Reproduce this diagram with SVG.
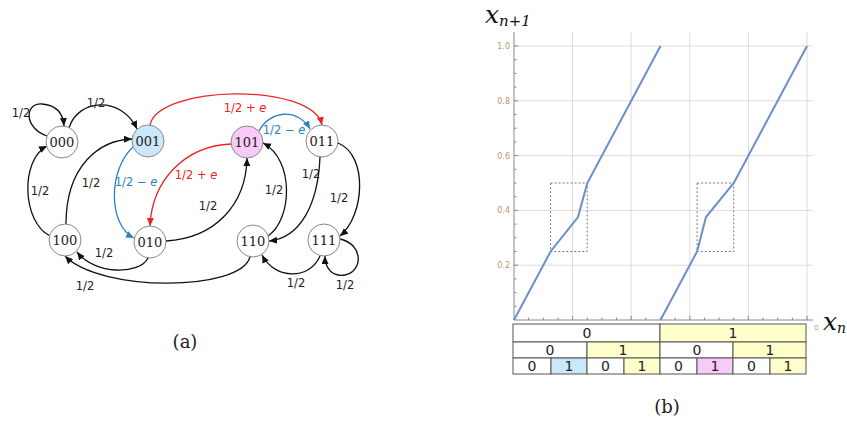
<svg xmlns="http://www.w3.org/2000/svg" width="847" height="425" viewBox="0 0 847 425">
<defs>
<marker id="ak" markerUnits="userSpaceOnUse" markerWidth="9" markerHeight="8" refX="8" refY="3.5" orient="auto"><path d="M0,0 L8,3.5 L0,7 z" fill="#111"/></marker>
<marker id="ar" markerUnits="userSpaceOnUse" markerWidth="9" markerHeight="8" refX="8" refY="3.5" orient="auto"><path d="M0,0 L8,3.5 L0,7 z" fill="#ee2222"/></marker>
<marker id="ab" markerUnits="userSpaceOnUse" markerWidth="9" markerHeight="8" refX="8" refY="3.5" orient="auto"><path d="M0,0 L8,3.5 L0,7 z" fill="#2e7fc6"/></marker>
</defs>
<style>
.node circle{stroke:#888;stroke-width:1;fill:#fff}
.node text{font-family:"DejaVu Serif",serif;font-size:13px;text-anchor:middle;fill:#222}
.e{fill:none;stroke:#111;stroke-width:1.3}
.er{fill:none;stroke:#ee2222;stroke-width:1.3}
.eb{fill:none;stroke:#2e7fc6;stroke-width:1.3}
.lbl{font-family:"DejaVu Sans",sans-serif;font-size:11.5px;text-anchor:middle;fill:#222}
.lr{fill:#ee2222}
.lb{fill:#2e7fc6}
.grid{stroke:#dcdcdc;stroke-width:1}
.tick{stroke:#888;stroke-width:1}
.tl{font-family:"DejaVu Sans",sans-serif;font-size:8px;fill:#b8956a;text-anchor:end}
.cell{stroke:#555;stroke-width:1}
.ct{font-family:"DejaVu Sans",sans-serif;font-size:14px;text-anchor:middle;fill:#222}
.cap{font-family:"DejaVu Serif",serif;font-size:18px;text-anchor:middle;fill:#222}
.math{font-family:"DejaVu Serif",serif;font-style:italic;fill:#111}
</style>

<g id="connectors">
<path class="e" d="M47,136 C24,128 24,103 42,104 C56,105 63,113 64,126" marker-end="url(#ak)"/>
<path class="e" d="M69,128 C78,98 122,96 137,129" marker-end="url(#ak)"/>
<path class="er" d="M150,125 C158,85 312,82 322,125" marker-end="url(#ar)"/>
<path class="eb" d="M133,147 C108,170 108,225 134,238" marker-end="url(#ab)"/>
<path class="er" d="M231,144 C185,146 152,180 150,226" marker-end="url(#ar)"/>
<path class="eb" d="M259,131 C270,110 298,108 310,129" marker-end="url(#ab)"/>
<path class="e" d="M50,236 C22,222 20,160 47,146" marker-end="url(#ak)"/>
<path class="e" d="M66,224 C66,165 100,140 132,139" marker-end="url(#ak)"/>
<path class="e" d="M148,258 C140,275 95,275 77,252" marker-end="url(#ak)"/>
<path class="e" d="M166,241 C215,238 246,205 247,158" marker-end="url(#ak)"/>
<path class="e" d="M250,257 C240,292 100,292 65,256" marker-end="url(#ak)"/>
<path class="e" d="M320,157 C318,205 300,238 269,241" marker-end="url(#ak)"/>
<path class="e" d="M268,236 C292,220 295,160 263,143" marker-end="url(#ak)"/>
<path class="e" d="M338,143 C368,155 365,215 340,236" marker-end="url(#ak)"/>
<path class="e" d="M320,256 C310,280 275,280 262,255" marker-end="url(#ak)"/>
<path class="e" d="M340,239 C365,245 362,272 345,275 C332,277 325,268 325,256" marker-end="url(#ak)"/>
<text class="lbl" x="21" y="117">1/2</text>
<text class="lbl" x="96" y="107">1/2</text>
<text class="lbl lr" x="245" y="112">1/2 + <tspan font-style="italic">e</tspan></text>
<text class="lbl lb" x="136" y="186">1/2 − <tspan font-style="italic">e</tspan></text>
<text class="lbl lr" x="196" y="179">1/2 + <tspan font-style="italic">e</tspan></text>
<text class="lbl lb" x="284" y="134">1/2 − <tspan font-style="italic">e</tspan></text>
<text class="lbl" x="40" y="195">1/2</text>
<text class="lbl" x="91" y="187">1/2</text>
<text class="lbl" x="104" y="257">1/2</text>
<text class="lbl" x="85" y="290">1/2</text>
<text class="lbl" x="208" y="210">1/2</text>
<text class="lbl" x="274" y="194">1/2</text>
<text class="lbl" x="311" y="178">1/2</text>
<text class="lbl" x="339" y="202">1/2</text>
<text class="lbl" x="296" y="287">1/2</text>
<text class="lbl" x="345" y="289">1/2</text>
</g>

<g id="n000" class="node"><circle cx="62" cy="142" r="16"/><text x="62" y="147">000</text></g>
<g id="n001" class="node"><circle cx="148" cy="141" r="16" style="fill:#cbe8f8"/><text x="148" y="146">001</text></g>
<g id="n101" class="node"><circle cx="247" cy="142" r="16" style="fill:#f8caf8"/><text x="247" y="147">101</text></g>
<g id="n011" class="node"><circle cx="322" cy="141" r="16"/><text x="322" y="146">011</text></g>
<g id="n100" class="node"><circle cx="65" cy="240" r="16"/><text x="65" y="245">100</text></g>
<g id="n010" class="node"><circle cx="150" cy="242" r="16"/><text x="150" y="247">010</text></g>
<g id="n110" class="node"><circle cx="253" cy="241" r="16"/><text x="253" y="246">110</text></g>
<g id="n111" class="node"><circle cx="324" cy="240" r="16"/><text x="324" y="245">111</text></g>

<text class="cap" x="185" y="348">(a)</text>

<g id="plot">
<g class="grid">
<line x1="572.6" y1="32" x2="572.6" y2="320"/>
<line x1="631.2" y1="32" x2="631.2" y2="320"/>
<line x1="689.8" y1="32" x2="689.8" y2="320"/>
<line x1="748.4" y1="32" x2="748.4" y2="320"/>
<line x1="807" y1="32" x2="807" y2="320"/>
<line x1="514" y1="265.2" x2="813" y2="265.2"/>
<line x1="514" y1="210.4" x2="813" y2="210.4"/>
<line x1="514" y1="155.6" x2="813" y2="155.6"/>
<line x1="514" y1="100.8" x2="813" y2="100.8"/>
<line x1="514" y1="46" x2="813" y2="46"/>
</g>
<g class="tick">
<line x1="514" y1="32" x2="514" y2="320"/>
<line x1="514" y1="320" x2="813" y2="320"/>
<path d="M514,306.3h2.5M514,292.6h2.5M514,278.9h2.5M514,265.2h4M514,251.5h2.5M514,237.8h2.5M514,224.1h2.5M514,210.4h4M514,196.7h2.5M514,183h2.5M514,169.3h2.5M514,155.6h4M514,141.9h2.5M514,128.2h2.5M514,114.5h2.5M514,100.8h4M514,87.1h2.5M514,73.4h2.5M514,59.7h2.5M514,46h4"/>
<path d="M528.65,320v-2.5M543.3,320v-2.5M557.95,320v-2.5M572.6,320v-4M587.25,320v-2.5M601.9,320v-2.5M616.55,320v-2.5M631.2,320v-4M645.85,320v-2.5M660.5,320v-2.5M675.15,320v-2.5M689.8,320v-4M704.45,320v-2.5M719.1,320v-2.5M733.75,320v-2.5M748.4,320v-4M763.05,320v-2.5M777.7,320v-2.5M792.35,320v-2.5M807,320v-4"/>
</g>
<text class="tl" x="510" y="268">0.2</text>
<text class="tl" x="510" y="213">0.4</text>
<text class="tl" x="510" y="158.5">0.6</text>
<text class="tl" x="510" y="103.5">0.8</text>
<text class="tl" x="510" y="49">1.0</text>
<text class="tl" x="814" y="330" style="text-anchor:start;fill:#aaa;font-size:7px">0</text>
<rect x="550.6" y="183" width="36.6" height="68.5" fill="none" stroke="#555" stroke-width="0.8" stroke-dasharray="2,2"/>
<rect x="697.1" y="183" width="36.6" height="68.5" fill="none" stroke="#555" stroke-width="0.8" stroke-dasharray="2,2"/>
<polyline points="514,320 550.6,251.5 578,217 587.3,183 660.5,46" fill="none" stroke="#6a8fcc" stroke-width="2"/>
<polyline points="660.5,320 697.1,251.5 706,217 733.8,183 807,46" fill="none" stroke="#6a8fcc" stroke-width="2"/>
<text class="math" x="485" y="23" font-size="25">x<tspan font-size="15" dy="3">n+1</tspan></text>
<text class="math" x="823" y="330" font-size="25">x<tspan font-size="14" dy="3">n</tspan></text>
</g>

<g id="table">
<rect class="cell" x="513" y="324" width="147" height="18" fill="#fff"/>
<rect class="cell" x="660" y="324" width="146" height="18" fill="#ffffcc"/>
<rect class="cell" x="513" y="342" width="74" height="16" fill="#fff"/>
<rect class="cell" x="587" y="342" width="73" height="16" fill="#ffffcc"/>
<rect class="cell" x="660" y="342" width="73" height="16" fill="#fff"/>
<rect class="cell" x="733" y="342" width="73" height="16" fill="#ffffcc"/>
<rect class="cell" x="513" y="358" width="38" height="16" fill="#fff"/>
<rect class="cell" x="551" y="358" width="36" height="16" fill="#cbe8f8"/>
<rect class="cell" x="587" y="358" width="37" height="16" fill="#fff"/>
<rect class="cell" x="624" y="358" width="36" height="16" fill="#ffffcc"/>
<rect class="cell" x="660" y="358" width="37" height="16" fill="#fff"/>
<rect class="cell" x="697" y="358" width="36" height="16" fill="#f8caf8"/>
<rect class="cell" x="733" y="358" width="37" height="16" fill="#fff"/>
<rect class="cell" x="770" y="358" width="36" height="16" fill="#ffffcc"/>
<text class="ct" x="587" y="338">0</text>
<text class="ct" x="733" y="338">1</text>
<text class="ct" x="550" y="355">0</text>
<text class="ct" x="623" y="355">1</text>
<text class="ct" x="697" y="355">0</text>
<text class="ct" x="770" y="355">1</text>
<text class="ct" x="532" y="371">0</text>
<text class="ct" x="569" y="371">1</text>
<text class="ct" x="605.5" y="371">0</text>
<text class="ct" x="642" y="371">1</text>
<text class="ct" x="678.5" y="371">0</text>
<text class="ct" x="715" y="371">1</text>
<text class="ct" x="751.5" y="371">0</text>
<text class="ct" x="788" y="371">1</text>
</g>

<text class="cap" x="667" y="413">(b)</text>
</svg>
